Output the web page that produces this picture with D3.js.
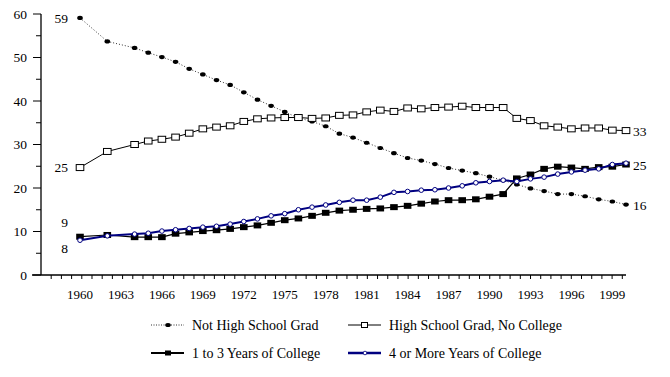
<!DOCTYPE html>
<html lang="en">
<head>
    <meta charset="UTF-8">
    <title>Educational Attainment</title>
    <style>
        body { margin: 0; background: #fff; }
    </style>
</head>
<body>
    <svg width="670" height="377" font-family="'Liberation Serif', 'Times New Roman', 'DejaVu Serif', serif"></svg>

    <script src="https://d3js.org/d3.v7.min.js"></script>
    <script>
        // data (percent)
        let years = [1960, 1962, 1964, 1965, 1966, 1967, 1968, 1969, 1970, 1971,
                     1972, 1973, 1974, 1975, 1976, 1977, 1978, 1979, 1980, 1981,
                     1982, 1983, 1984, 1985, 1986, 1987, 1988, 1989, 1990, 1991,
                     1992, 1993, 1994, 1995, 1996, 1997, 1998, 1999, 2000];
        let notHighSchool = [59.1, 53.7, 52.2, 51.1, 50.1, 49.0, 47.4, 46.1, 44.8, 43.7,
                             42.0, 40.3, 38.9, 37.5, 36.1, 35.3, 34.2, 32.5, 31.6, 30.4,
                             29.2, 28.0, 26.9, 26.3, 25.5, 24.6, 24.0, 23.4, 22.6, 21.8,
                             20.8, 19.9, 19.3, 18.6, 18.6, 18.1, 17.4, 16.9, 16.2];
        let highSchoolOnly = [24.7, 28.4, 30.0, 30.8, 31.2, 31.7, 32.6, 33.6, 34.0, 34.3,
                              35.3, 35.9, 36.1, 36.2, 36.2, 36.0, 36.1, 36.7, 36.8, 37.5,
                              37.9, 37.6, 38.4, 38.2, 38.5, 38.6, 38.8, 38.5, 38.5, 38.5,
                              36.0, 35.5, 34.3, 34.0, 33.6, 33.8, 33.8, 33.3, 33.2];
        let someCollege = [8.8, 9.2, 8.7, 8.7, 8.7, 9.5, 9.8, 10.1, 10.3, 10.6,
                           11.0, 11.4, 12.0, 12.6, 13.0, 13.6, 14.3, 14.8, 15.0, 15.2,
                           15.3, 15.6, 15.9, 16.4, 16.9, 17.2, 17.2, 17.4, 18.0, 18.6,
                           22.2, 23.1, 24.4, 24.9, 24.7, 24.4, 24.8, 24.9, 25.4];
        let fourYears = [8.0, 9.0, 9.4, 9.6, 10.1, 10.4, 10.7, 11.0, 11.2, 11.7,
                         12.3, 12.9, 13.6, 14.1, 15.0, 15.6, 16.1, 16.7, 17.2, 17.2,
                         17.9, 19.0, 19.2, 19.5, 19.6, 20.0, 20.5, 21.2, 21.5, 21.8,
                         21.5, 22.1, 22.5, 23.2, 23.7, 24.1, 24.4, 25.4, 25.7];
        let yearLabels = [1960, 1963, 1966, 1969, 1972, 1975, 1978, 1981, 1984, 1987, 1990, 1993, 1996, 1999];
        let yTicks = [0, 10, 20, 30, 40, 50, 60];
        let seriesNames = ["Not High School Grad", "High School Grad, No College",
                           "1 to 3 Years of College", "4 or More Years of College"];

        let svg = d3.select("svg");
        let x = d3.scaleLinear().domain([1960, 2000]).range([80, 626]);
        let y = d3.scaleLinear().domain([0, 60]).range([275, 14]);

        // y axis
        svg.append("line").attr("x1", 41).attr("x2", 41).attr("y1", y(60)).attr("y2", y(0))
            .attr("stroke", "#000").attr("stroke-width", 1.3);
        d3.range(0, 61, 5).forEach(function(v) {
            svg.append("line")
                .attr("x1", v % 10 === 0 ? 33 : 36).attr("x2", 41)
                .attr("y1", y(v)).attr("y2", y(v))
                .attr("stroke", "#000").attr("stroke-width", 1);
        });
        svg.selectAll(".ylab").data(yTicks).enter().append("text")
            .attr("x", 27).attr("y", d => y(d)).attr("dy", "0.35em")
            .attr("text-anchor", "end").attr("font-size", 13.5)
            .text(d => d);

        // x axis (ticks are not aligned with the years in the original)
        svg.append("line").attr("x1", 32).attr("x2", 626).attr("y1", y(0)).attr("y2", y(0))
            .attr("stroke", "#000").attr("stroke-width", 1.3);
        let tickScale = d3.scaleLinear().domain([0, 57]).range([41, 622.3]);
        d3.range(1, 58).forEach(function(k) {
            svg.append("line")
                .attr("x1", tickScale(k)).attr("x2", tickScale(k))
                .attr("y1", y(0)).attr("y2", y(0) + 4)
                .attr("stroke", "#000").attr("stroke-width", 1);
        });
        svg.selectAll(".xlab").data(yearLabels).enter().append("text")
            .attr("x", d => x(d)).attr("y", 298.5)
            .attr("text-anchor", "middle").attr("font-size", 13)
            .text(d => d);

        function points(values) {
            return years.map((yr, i) => [x(yr), y(values[i])]);
        }
        let line = d3.line();

        // Not high school grad: dotted, black dots
        svg.append("path").attr("d", line(points(notHighSchool)))
            .attr("fill", "none").attr("stroke", "#333").attr("stroke-width", 1)
            .attr("stroke-dasharray", "1,2");
        svg.selectAll(".dot").data(points(notHighSchool)).enter().append("ellipse")
            .attr("cx", d => d[0]).attr("cy", d => d[1]).attr("rx", 2.8).attr("ry", 2.1)
            .attr("fill", "#000");

        // High school grad: solid, open squares
        svg.append("path").attr("d", line(points(highSchoolOnly)))
            .attr("fill", "none").attr("stroke", "#000").attr("stroke-width", 1);
        svg.selectAll(".osq").data(points(highSchoolOnly)).enter().append("rect")
            .attr("x", d => d[0] - 3.8).attr("y", d => d[1] - 3).attr("width", 7.6).attr("height", 6)
            .attr("fill", "#fff").attr("stroke", "#000").attr("stroke-width", 1);

        // 1 to 3 years: solid, filled squares
        svg.append("path").attr("d", line(points(someCollege)))
            .attr("fill", "none").attr("stroke", "#000").attr("stroke-width", 1.2);
        svg.selectAll(".fsq").data(points(someCollege)).enter().append("rect")
            .attr("x", d => d[0] - 3.8).attr("y", d => d[1] - 3).attr("width", 7.6).attr("height", 6)
            .attr("fill", "#000");

        // 4 or more years: navy, small open circles
        svg.append("path").attr("d", line(points(fourYears)))
            .attr("fill", "none").attr("stroke", "#000080").attr("stroke-width", 2);
        svg.selectAll(".circ").data(points(fourYears)).enter().append("circle")
            .attr("cx", d => d[0]).attr("cy", d => d[1]).attr("r", 2.3)
            .attr("fill", "#fff").attr("stroke", "#000080").attr("stroke-width", 1);

        // end labels
        let first = 0, last = years.length - 1;
        let endLabels = [
            { v: notHighSchool[first], yr: years[first], dy: 0, side: "start" },
            { v: highSchoolOnly[first], yr: years[first], dy: 0, side: "start" },
            { v: someCollege[first], yr: years[first], dy: -14, side: "start" },
            { v: fourYears[first], yr: years[first], dy: 8, side: "start" },
            { v: highSchoolOnly[last], yr: years[last], dy: 1, side: "end" },
            { v: someCollege[last], yr: years[last], dy: 1, side: "end" },
            { v: notHighSchool[last], yr: years[last], dy: 1, side: "end" }
        ];
        svg.selectAll(".endlab").data(endLabels).enter().append("text")
            .attr("x", d => d.side === "start" ? x(d.yr) - 12 : x(d.yr) + 7)
            .attr("y", d => y(d.v) + d.dy).attr("dy", "0.35em")
            .attr("text-anchor", d => d.side === "start" ? "end" : "start")
            .attr("font-size", 13.5)
            .text(d => Math.round(d.v));

        // legend
        let legendPos = [[151, 325], [348, 325], [151, 353], [348, 353]];
        legendPos.forEach(function(p, i) {
            let g = svg.append("g").attr("transform", "translate(" + p[0] + "," + p[1] + ")");
            let ln = g.append("line").attr("x1", 0).attr("x2", 33).attr("y1", 0).attr("y2", 0);
            if (i === 0) {
                ln.attr("stroke", "#333").attr("stroke-dasharray", "1,1.5").attr("stroke-width", 1);
                g.append("ellipse").attr("cx", 17).attr("cy", 0).attr("rx", 2.8).attr("ry", 2.1).attr("fill", "#000");
            } else if (i === 1) {
                ln.attr("stroke", "#000").attr("stroke-width", 1);
                g.append("rect").attr("x", 13.5).attr("y", -2.5).attr("width", 6).attr("height", 5)
                    .attr("fill", "#fff").attr("stroke", "#000");
            } else if (i === 2) {
                ln.attr("stroke", "#000").attr("stroke-width", 2);
                g.append("rect").attr("x", 14).attr("y", -2.5).attr("width", 6).attr("height", 5).attr("fill", "#000");
            } else {
                ln.attr("stroke", "#000080").attr("stroke-width", 2.5);
                g.append("circle").attr("cx", 17).attr("cy", 0).attr("r", 1.8)
                    .attr("fill", "#fff").attr("stroke", "#000080").attr("stroke-width", 0.8);
            }
            g.append("text").attr("x", 41).attr("y", 0).attr("dy", "0.35em")
                .attr("font-size", 14).text(seriesNames[i]);
        });
    </script>
</body>
</html>
